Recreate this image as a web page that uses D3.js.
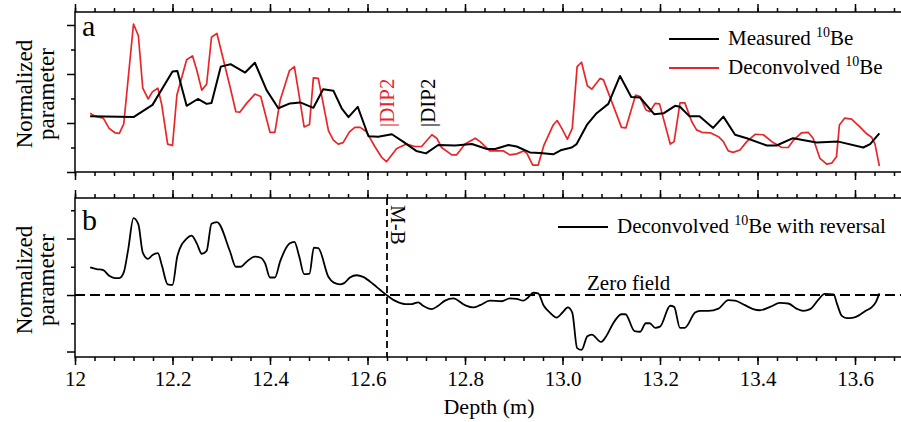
<!DOCTYPE html>
<html>
<head>
<meta charset="utf-8">
<script src="https://cdn.jsdelivr.net/npm/d3@7"></script>
<style>
	body { margin: 0; background: #fff; }
	svg { display: block; font-family: "Liberation Serif", "DejaVu Serif", serif; }
	.frame { stroke: #000; stroke-width: 1.5; fill: none; }
	.axis path { display: none; }
	.axis line { stroke: #000; stroke-width: 1.5; }
	.axis text { font-family: "Liberation Serif", serif; font-size: 21px; fill: #000; }
</style>
</head>
<body>
<div id="chart"></div>
<script>
// panel a: measured 10Be (black)
var measuredDepth = [12.031, 12.12, 12.159, 12.2, 12.21, 12.229, 12.252, 12.27, 12.28, 12.299, 12.319, 12.349, 12.369, 12.393, 12.417, 12.441, 12.462, 12.489, 12.509, 12.53, 12.547, 12.561, 12.58, 12.602, 12.622, 12.65, 12.673, 12.7, 12.72, 12.745, 12.78, 12.814, 12.845, 12.862, 12.889, 12.906, 12.933, 12.954, 12.981, 12.998, 13.019, 13.029, 13.05, 13.07, 13.094, 13.118, 13.141, 13.159, 13.188, 13.208, 13.231, 13.241, 13.26, 13.281, 13.309, 13.33, 13.354, 13.378, 13.419, 13.439, 13.473, 13.521, 13.566, 13.617, 13.631, 13.65];
var measuredBe = [1.14, 1.12, 1.37, 2.05, 2.06, 1.35, 1.49, 1.39, 1.41, 2.15, 2.2, 2.03, 2.23, 1.67, 1.3, 1.4, 1.42, 1.31, 1.69, 1.66, 1.3, 1.12, 1.33, 0.73, 0.72, 0.77, 0.62, 0.43, 0.38, 0.55, 0.54, 0.57, 0.47, 0.47, 0.55, 0.52, 0.4, 0.39, 0.36, 0.45, 0.5, 0.57, 0.96, 1.2, 1.39, 1.96, 1.53, 1.52, 1.18, 1.2, 1.35, 1.33, 1.14, 1.14, 0.9, 1.13, 0.76, 0.69, 0.54, 0.54, 0.69, 0.6, 0.62, 0.5, 0.57, 0.79];

// panel a: deconvolved 10Be (red)
var deconvDepth = [12.031, 12.041, 12.058, 12.07, 12.082, 12.091, 12.1, 12.12, 12.13, 12.139, 12.15, 12.159, 12.17, 12.178, 12.19, 12.2, 12.209, 12.229, 12.241, 12.25, 12.26, 12.27, 12.28, 12.291, 12.318, 12.33, 12.338, 12.352, 12.369, 12.381, 12.4, 12.41, 12.421, 12.44, 12.45, 12.458, 12.47, 12.481, 12.489, 12.499, 12.52, 12.53, 12.54, 12.55, 12.563, 12.574, 12.585, 12.598, 12.615, 12.629, 12.639, 12.66, 12.68, 12.697, 12.711, 12.732, 12.742, 12.752, 12.773, 12.783, 12.8, 12.821, 12.831, 12.851, 12.879, 12.892, 12.906, 12.92, 12.927, 12.939, 12.95, 12.962, 12.981, 12.989, 12.998, 13.01, 13.02, 13.03, 13.039, 13.051, 13.06, 13.077, 13.084, 13.121, 13.13, 13.15, 13.159, 13.171, 13.179, 13.19, 13.199, 13.221, 13.229, 13.241, 13.251, 13.265, 13.275, 13.286, 13.303, 13.32, 13.33, 13.34, 13.35, 13.364, 13.378, 13.395, 13.412, 13.432, 13.45, 13.463, 13.473, 13.49, 13.504, 13.514, 13.528, 13.542, 13.552, 13.562, 13.568, 13.579, 13.593, 13.61, 13.624, 13.634, 13.641, 13.65];
var deconvBe = [1.2, 1.14, 1.1, 0.89, 0.8, 0.79, 0.98, 3.02, 2.78, 1.71, 1.49, 1.64, 1.71, 1.37, 0.57, 0.54, 1.57, 2.29, 2.37, 2.07, 1.67, 1.79, 2.75, 2.83, 1.74, 1.23, 1.22, 1.4, 1.59, 1.54, 0.81, 0.81, 1.47, 2.07, 2.15, 1.67, 0.92, 0.97, 1.92, 1.91, 0.84, 0.65, 0.57, 0.6, 0.82, 0.91, 0.91, 0.82, 0.52, 0.3, 0.21, 0.48, 0.57, 0.52, 0.52, 0.76, 0.69, 0.5, 0.35, 0.35, 0.57, 0.69, 0.62, 0.43, 0.43, 0.35, 0.37, 0.43, 0.38, 0.14, 0.14, 0.55, 0.96, 1.05, 0.9, 0.67, 0.89, 2.15, 2.24, 1.76, 1.69, 1.91, 1.88, 0.91, 0.9, 1.57, 1.54, 1.27, 1.23, 1.4, 1.39, 0.57, 0.62, 1.41, 1.41, 1.03, 0.86, 0.81, 0.8, 0.72, 0.62, 0.43, 0.4, 0.45, 0.62, 0.77, 0.76, 0.6, 0.5, 0.5, 0.64, 0.8, 0.81, 0.69, 0.28, 0.16, 0.18, 0.31, 0.96, 1.1, 1.08, 0.92, 0.78, 0.71, 0.57, 0.12];

// panel b: deconvolved 10Be with reversal
var reversalDepth = [12.031, 12.044, 12.058, 12.07, 12.082, 12.091, 12.1, 12.109, 12.12, 12.13, 12.139, 12.15, 12.159, 12.17, 12.178, 12.19, 12.2, 12.21, 12.229, 12.239, 12.25, 12.26, 12.27, 12.28, 12.291, 12.318, 12.33, 12.34, 12.352, 12.369, 12.381, 12.39, 12.4, 12.41, 12.421, 12.44, 12.45, 12.46, 12.47, 12.481, 12.49, 12.499, 12.52, 12.531, 12.544, 12.552, 12.564, 12.578, 12.591, 12.612, 12.626, 12.639, 12.656, 12.677, 12.691, 12.704, 12.714, 12.732, 12.745, 12.759, 12.776, 12.8, 12.817, 12.831, 12.851, 12.875, 12.892, 12.906, 12.92, 12.93, 12.94, 12.95, 12.961, 12.974, 12.988, 13.0, 13.011, 13.02, 13.03, 13.039, 13.051, 13.06, 13.079, 13.091, 13.102, 13.121, 13.129, 13.148, 13.159, 13.171, 13.179, 13.19, 13.2, 13.221, 13.229, 13.241, 13.251, 13.272, 13.282, 13.299, 13.32, 13.34, 13.354, 13.374, 13.391, 13.405, 13.426, 13.446, 13.463, 13.48, 13.494, 13.508, 13.525, 13.538, 13.556, 13.564, 13.573, 13.583, 13.597, 13.61, 13.622, 13.634, 13.643, 13.65];
var reversalBe = [0.49, 0.46, 0.44, 0.34, 0.3, 0.3, 0.4, 0.8, 1.36, 1.25, 0.75, 0.64, 0.71, 0.74, 0.53, 0.19, 0.18, 0.69, 1.0, 1.05, 0.91, 0.73, 0.78, 1.26, 1.29, 0.77, 0.5, 0.5, 0.59, 0.68, 0.66, 0.56, 0.31, 0.31, 0.6, 0.91, 0.94, 0.68, 0.37, 0.38, 0.84, 0.83, 0.32, 0.22, 0.19, 0.21, 0.31, 0.35, 0.32, 0.19, 0.09, 0.0, -0.1, -0.16, -0.16, -0.13, -0.19, -0.25, -0.19, -0.1, -0.06, -0.18, -0.22, -0.18, -0.1, -0.11, -0.06, -0.07, -0.1, -0.04, 0.04, 0.03, -0.18, -0.31, -0.4, -0.31, -0.22, -0.31, -0.94, -0.97, -0.73, -0.7, -0.83, -0.71, -0.53, -0.34, -0.34, -0.64, -0.65, -0.5, -0.5, -0.58, -0.56, -0.19, -0.21, -0.58, -0.58, -0.31, -0.28, -0.28, -0.24, -0.09, -0.1, -0.18, -0.25, -0.27, -0.21, -0.14, -0.15, -0.24, -0.28, -0.25, -0.08, 0.02, 0.01, -0.18, -0.37, -0.41, -0.4, -0.35, -0.28, -0.22, -0.12, 0.03];

var depthTicks = [12, 12.2, 12.4, 12.6, 12.8, 13.0, 13.2, 13.4, 13.6];
var depthTickLabels = ['12', '12.2', '12.4', '12.6', '12.8', '13.0', '13.2', '13.4', '13.6'];
var depthMinorTicks = d3.range(12, 13.73, 0.04);
var aMajorTicks = [0, 1, 2, 3];
var aMinorTicks = [0.5, 1.5, 2.5];
var bMajorTicks = [-1, 0, 1];
var bMinorTicks = [-0.5, 0.5, 1.5];
var mbDepth = 12.64;
var dipRedDepth = 12.655;
var dipBlackDepth = 12.738;

var red = '#e8262a';
var width = 901, height = 422;

var svg = d3.select('#chart').append('svg')
	.attr('width', width)
	.attr('height', height);

var x = d3.scaleLinear().domain([12, 13.72]).range([75, 913.5]);
var yA = d3.scaleLinear().domain([0, 3.265]).range([172, 12]);
var yB = d3.scaleLinear().domain([-1.097, 1.717]).range([357, 198]);

function drawFrame(y) {
	var r = y.range();
	svg.append('path')
		.attr('class', 'frame')
		.attr('d', 'M' + (x.range()[1]) + ',' + r[1] + 'H' + x.range()[0] + 'V' + r[0] + 'H' + x.range()[1]);
}

function drawXAxes(y, withLabels) {
	var r = y.range();
	// top
	svg.append('g').attr('class', 'axis')
		.attr('transform', 'translate(0,' + r[1] + ')')
		.call(d3.axisTop(x).tickValues(depthTicks).tickSize(8).tickFormat(''));
	svg.append('g').attr('class', 'axis')
		.attr('transform', 'translate(0,' + r[1] + ')')
		.call(d3.axisTop(x).tickValues(depthMinorTicks).tickSize(4).tickFormat(''));
	// bottom
	svg.append('g').attr('class', 'axis')
		.attr('transform', 'translate(0,' + r[0] + ')')
		.call(d3.axisBottom(x).tickValues(depthTicks).tickSize(8).tickPadding(6)
			.tickFormat(function(d, i) { return withLabels ? depthTickLabels[i] : ''; }));
	svg.append('g').attr('class', 'axis')
		.attr('transform', 'translate(0,' + r[0] + ')')
		.call(d3.axisBottom(x).tickValues(depthMinorTicks).tickSize(4).tickFormat(''));
}

function drawYAxis(y, major, minor) {
	svg.append('g').attr('class', 'axis')
		.attr('transform', 'translate(' + x.range()[0] + ',0)')
		.call(d3.axisLeft(y).tickValues(major).tickSize(8).tickFormat(''));
	svg.append('g').attr('class', 'axis')
		.attr('transform', 'translate(' + x.range()[0] + ',0)')
		.call(d3.axisLeft(y).tickValues(minor).tickSize(4).tickFormat(''));
}

function drawSeries(depths, values, y, color, w, curve) {
	var line = d3.line()
		.x(function(d) { return x(d[0]); })
		.y(function(d) { return y(d[1]); })
		.curve(curve || d3.curveLinear);
	svg.append('path')
		.datum(d3.zip(depths, values))
		.attr('d', line)
		.attr('fill', 'none')
		.attr('stroke', color)
		.attr('stroke-width', w)
		.attr('stroke-linejoin', 'round');
}

function yLabel(cy) {
	var t = svg.append('text')
		.attr('transform', 'translate(32,' + cy + ') rotate(-90)')
		.attr('text-anchor', 'middle')
		.attr('font-size', 23);
	t.append('tspan').attr('x', 0).attr('y', 0).text('Normalized');
	t.append('tspan').attr('x', 0).attr('y', 22).text('parameter');
}

function legendEntry(x1, y, color, w, label, tail) {
	svg.append('line')
		.attr('x1', x1).attr('x2', x1 + 50)
		.attr('y1', y).attr('y2', y)
		.attr('stroke', color).attr('stroke-width', w);
	var t = svg.append('text')
		.attr('x', x1 + 59).attr('y', y + 6)
		.attr('font-size', 21);
	t.append('tspan').text(label + ' ');
	t.append('tspan').attr('font-size', 14).attr('dy', -8).text('10');
	t.append('tspan').attr('dy', 8).text('Be' + (tail || ''));
}

// panel a
drawSeries(deconvDepth, deconvBe, yA, red, 1.7);
drawSeries(measuredDepth, measuredBe, yA, '#000', 2);
drawFrame(yA);
drawXAxes(yA, false);
drawYAxis(yA, aMajorTicks, aMinorTicks);

svg.append('text').attr('x', 82).attr('y', 36).attr('font-size', 30).text('a');
legendEntry(669, 39, '#000', 2, 'Measured');
legendEntry(669, 68, red, 1.8, 'Deconvolved');

svg.append('text')
	.attr('transform', 'translate(' + (x(dipRedDepth)) + ',127) rotate(-90)')
	.attr('font-size', 21).attr('fill', red)
	.text('|DIP2');
svg.append('text')
	.attr('transform', 'translate(' + (x(dipBlackDepth)) + ',127) rotate(-90)')
	.attr('font-size', 21).attr('fill', '#000')
	.text('|DIP2');

yLabel(94);

// panel b
svg.append('line')
	.attr('x1', x.range()[0]).attr('x2', width)
	.attr('y1', yB(0)).attr('y2', yB(0))
	.attr('stroke', '#000').attr('stroke-width', 1.8)
	.attr('stroke-dasharray', '10,5');
svg.append('line')
	.attr('x1', x(mbDepth)).attr('x2', x(mbDepth))
	.attr('y1', yB.range()[1]).attr('y2', yB.range()[0])
	.attr('stroke', '#000').attr('stroke-width', 1.8)
	.attr('stroke-dasharray', '7,4');

drawSeries(reversalDepth, reversalBe, yB, '#000', 1.8, d3.curveMonotoneX);
drawFrame(yB);
drawXAxes(yB, true);
drawYAxis(yB, bMajorTicks, bMinorTicks);

svg.append('text').attr('x', 82).attr('y', 230).attr('font-size', 30).text('b');
legendEntry(558, 227, '#000', 2, 'Deconvolved', ' with reversal');

svg.append('text')
	.attr('x', 587).attr('y', 290)
	.attr('font-size', 21)
	.text('Zero field');

svg.append('text')
	.attr('transform', 'translate(' + (x(mbDepth) + 4) + ',205) rotate(90)')
	.attr('font-size', 21)
	.text('M-B');

yLabel(280);

svg.append('text')
	.attr('x', 489).attr('y', 414)
	.attr('text-anchor', 'middle')
	.attr('font-size', 22)
	.text('Depth (m)');
</script>
</body>
</html>
